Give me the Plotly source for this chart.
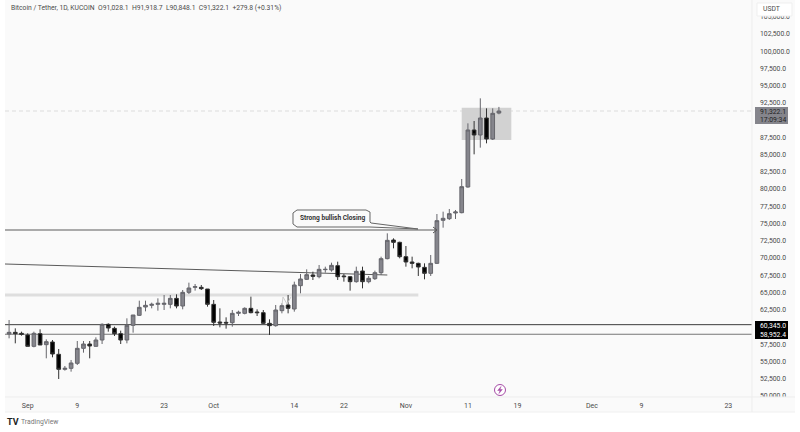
import pandas as pd
import plotly.graph_objects as go

start_date = "2024-08-29"
opens = [58990,59232,59087,58845,57202,59039,57444,57830,56043,53868,54012,54738,56912,57540,57202,58120,60392,59811,59039,58120,60247,61697,62905,63147,63292,63292,63292,64162,63050,65032,65757,65757,65515,63292,60730,60682,60634,61987,61987,62712,62180,62084,60537,60199,62374,63196,62615,65999,66918,67546,67304,68319,68271,68899,67401,67304,66579,68126,66579,67014,67884,69914,72620,72282,70204,69431,69237,68657,67787,69237,75473,75715,76536,76585,80306,88571,87846,90310,87266,91028.1]
highs = [61020,59811,59329,59087,59329,59667,58217,58120,56816,54351,55221,57975,57975,57975,58507,60537,60537,60054,59473,61262,61745,63824,63824,63534,64162,64645,64645,64742,65370,66433,66240,66095,65515,63920,62712,61407,62470,62374,62857,64404,62567,62470,61117,63196,63437,64645,66579,67691,68367,68029,68996,68754,69334,69479,67691,67401,68754,68754,67401,68174,70204,73587,72862,72379,71750,70204,69334,69237,70446,76390,76730,77116,76971,81466,89537,89875,93162,91712,91712,91918.7]
lows = [58362,57637,58749,57202,57057,57396,55463,55608,52466,53674,53529,54496,56284,55463,57154,57540,59329,58700,57540,57637,59184,61600,62277,62712,62374,62470,62712,62712,62567,64790,65273,65370,62954,60150,59957,59763,60054,61600,61842,61987,61600,60441,58846,60054,61987,61987,62229,64888,66821,66821,67063,67884,68029,66821,66579,65274,66434,65612,66338,66821,67546,69817,71412,69962,68754,68512,67401,66918,67401,69141,74410,75521,75667,76488,80209,85042,86009,86637,87121,90848.1]
closes = [59232,59039,58942,57202,59087,57396,57879,56091,53868,54012,54786,56912,57540,57251,58120,60392,59860,59039,58120,60247,61745,62857,63147,63292,63437,63437,64162,63050,65032,65660,65853,65563,63292,60682,60585,60585,61987,62132,62712,62083,62083,60537,60199,62470,63099,62712,66095,66966,67594,67352,68367,68367,68947,67304,67304,66579,68077,66579,67063,67884,69914,72572,72282,70204,69431,69237,68706,67787,69237,75424,75763,76440,76681,80354,88571,87846,90310,87266,90987,91322.1]
dates = pd.date_range(start_date, periods=len(opens), freq="D")

x_range = ["2024-08-28 08:10", "2024-12-26 19:40"]
y_range = [49855, 107420]
price_ticks = list(range(50000, 105001, 2500))
price_labels = [f"{v:,.1f}" for v in price_ticks]
date_ticks = ["2024-09-01","2024-09-09","2024-09-23","2024-10-01","2024-10-14","2024-10-22","2024-11-01","2024-11-11","2024-11-19","2024-12-01","2024-12-09","2024-12-23"]
date_labels = ["Sep","9","23","Oct","14","22","Nov","11","19","Dec","9","23"]

level_resist = 74070
level_band = 64645
level_a = 60345.0
level_b = 58952.4
last_close = 91322.1
trend_start, trend_end = 69140, 67545
box_dates = ["2024-11-10", "2024-11-18"]
box_prices = [87120, 91804]

L, R, H, W = 5, 752, 397, 800
def fx(x): return (x - L) / (R - L)
def fy(y): return (H - y) / H
FONT = "Roboto"
TXT = "#4a4a4a"

fig = go.Figure(go.Candlestick(
    x=dates, open=opens, high=highs, low=lows, close=closes,
    increasing=dict(fillcolor="#85858c", line=dict(color="#66666c", width=1)),
    decreasing=dict(fillcolor="#000000", line=dict(color="#333333", width=1)),
    whiskerwidth=0, showlegend=False, hoverinfo="skip",
))

shapes = []
def prect(x0, y0, x1, y1, fill, line="rgba(0,0,0,0)", layer="above", lw=0):
    shapes.append(dict(type="rect", xref="paper", yref="paper", x0=fx(x0), x1=fx(x1), y0=fy(y0), y1=fy(y1),
                       fillcolor=fill, line=dict(color=line, width=lw), layer=layer))
def ppath(points, color, width=1, fill=None, close=False):
    d = "M " + " L ".join(f"{fx(a):.5f},{fy(b):.5f}" for a, b in points) + (" Z" if close else "")
    shapes.append(dict(type="path", xref="paper", yref="paper", path=d,
                       line=dict(color=color, width=width), fillcolor=fill or "rgba(0,0,0,0)", layer="above"))
def hline(x0, x1, y0, y1, color, width, dash="solid", layer="below"):
    shapes.append(dict(type="line", xref="x", yref="y", x0=x0, x1=x1, y0=y0, y1=y1,
                       line=dict(color=color, width=width, dash=dash), layer=layer))

prect(5, 0, 795, 412, "#fafafa", layer="below")
hline(x_range[0], "2024-11-06", level_resist, level_resist, "#5a5a5a", 1)
hline(x_range[0], "2024-10-29", trend_start, trend_end, "#5a5a5a", 1)
hline(x_range[0], "2024-11-03", level_band, level_band, "#dedede", 3)
hline(x_range[0], x_range[1], level_a, level_a, "#3c3c3c", 1)
hline(x_range[0], x_range[1], level_b, level_b, "#777777", 1)
hline(x_range[0], x_range[1], last_close, last_close, "#dcdcdc", 1, dash="4px,3px")
shapes.append(dict(type="rect", xref="x", yref="y", x0=box_dates[0], x1=box_dates[1], y0=box_prices[0], y1=box_prices[1],
                   fillcolor="#d2d2d2", line=dict(width=0), layer="below"))

# covers the tail of the lowest price label, which the date strip clips
prect(752, 397, 795, 412, "#fafafa")
ppath([(5, 397), (795, 397)], "#ededed")
ppath([(5, 412), (795, 412)], "#efefef")
ppath([(752, 0), (752, 412)], "#ededed")
# axis tag boxes
prect(757, 3, 792, 16, "#ffffff", line="#efefef", lw=1)
prect(755, 107, 788, 124, "#85858c")
prect(755, 321, 788, 330, "#000000")
prect(755, 330, 788, 339, "#000000")
# callout
ppath([(297, 210), (366, 210), (370, 212), (370, 222), (371, 223), (418, 229), (370, 227), (297, 227), (293, 224), (293, 213)],
      "#666666", 1, "#fafafa", True)
ppath([(433, 227), (437, 230), (433, 233)], "#555555")
# pale M pattern
ppath([(282, 305), (283, 297), (287, 304), (291, 297)], "#cccccc")
# lightning badge
shapes.append(dict(type="circle", xref="paper", yref="paper", x0=fx(494.5), x1=fx(505.5), y0=fy(395.5), y1=fy(384.5),
                   fillcolor="#ffffff", line=dict(color="#a64ca6", width=1), layer="above"))
ppath([(501, 386.5), (497.7, 390.5), (500, 390.5), (499, 393.5), (502.3, 389.5), (500, 389.5)], "#a64ca6", 0.5, "#a64ca6", True)

anns = []
def txt(x, y, s, size=7, color=TXT, anchor="left", bold=False):
    anns.append(dict(xref="paper", yref="paper", x=fx(x), y=fy(y), text=f"<b>{s}</b>" if bold else s, showarrow=False,
                     xanchor=anchor, yanchor="middle", font=dict(family=FONT, size=size, color=color)))

txt(9, 8, "Bitcoin / Tether, 1D, KUCOIN&nbsp;&nbsp;O91,028.1&nbsp;&nbsp;H91,918.7&nbsp;&nbsp;L90,848.1&nbsp;&nbsp;C91,322.1&nbsp;&nbsp;+279.8 (+0.31%)", 6.75)
txt(761, 9, "USDT", 6.8)
txt(758, 111.5, "91,322.1", 6.8, "#222222")
txt(758, 119.5, "17:09:34", 6.8, "#222222")
txt(758, 325.5, "60,345.0", 6.8, "#ffffff")
txt(758, 334.5, "58,952.4", 6.8, "#ffffff")
txt(298, 218, "Strong bullish Closing", 6.6, "#333333", bold=True)
txt(5, 422, "TV", 9, "#222222", bold=True)
txt(19, 422, "TradingView", 6.8, "#777777")

fig.update_layout(
    width=W, height=432, autosize=False,
    margin=dict(l=L, r=W - R, t=0, b=432 - H, pad=0),
    paper_bgcolor="#ffffff", plot_bgcolor="rgba(0,0,0,0)",
    font=dict(family=FONT, size=7, color=TXT), boxgap=0.15,
    shapes=shapes, annotations=anns, showlegend=False,
    xaxis=dict(type="date", range=x_range, rangeslider=dict(visible=False), showgrid=False, zeroline=False,
               tickmode="array", tickvals=date_ticks, ticktext=date_labels, ticks="", showline=False,
               ticklabelstandoff=3, tickfont=dict(family=FONT, size=7, color=TXT)),
    yaxis=dict(side="right", range=y_range, showgrid=False, zeroline=False, showline=False,
               tickmode="array", tickvals=price_ticks, ticktext=price_labels, ticks="",
               ticklabelstandoff=7, tickfont=dict(family=FONT, size=6.8, color=TXT)),
)
fig.write_html("out.html", post_script="document.body.style.margin='0';", config={"displayModeBar": False})
